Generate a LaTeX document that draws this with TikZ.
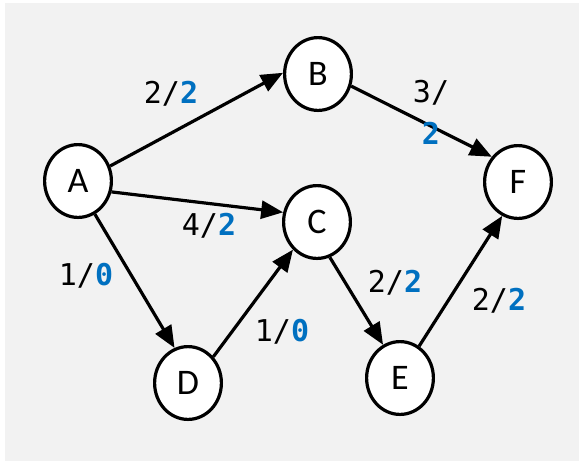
\documentclass[tikz,border=0pt]{standalone}
\usepackage{fontspec}
\setmainfont{Carlito}
\newfontfamily\labelfont{DejaVu Sans Mono}
\usetikzlibrary{arrows.meta,shapes.geometric}
\definecolor{PanelGray}{HTML}{F2F2F2}
\definecolor{FlowBlue}{HTML}{0070C0}
\newcommand{\flowlab}[2]{#1/\textcolor{FlowBlue}{\bfseries #2}}

\begin{document}
\begin{tikzpicture}[x=0.5pt,y=-0.5pt,
  vertex/.style={draw,ellipse,line width=1.6pt,fill=white,inner sep=0pt,minimum width=33.4pt,minimum height=36.4pt,font=\fontsize{18}{20}\selectfont},
  flow/.style={-{Triangle[length=11pt,width=9pt]},line width=1.6pt},
  edgelabel/.style={inner sep=0pt,font=\labelfont\fontsize{15}{21}\selectfont,align=center}]
  \useasboundingbox (0,0) rectangle (583,463);
  \fill[PanelGray] (5,3) rectangle (579,461);
  % vertices
  \node[vertex] (A) at (78,181) {A};
  \node[vertex] (B) at (318,74) {B};
  \node[vertex] (C) at (317,222) {C};
  \node[vertex] (D) at (188,383) {D};
  \node[vertex] (E) at (400,378) {E};
  \node[vertex] (F) at (518,182) {F};
  % flows
  \draw[flow] (A.25) -- (B.178);
  \draw[flow] (A.-18) -- (C.164);
  \draw[flow] (A.-63) -- (D.111);
  \draw[flow] (D.46) -- (C.229);
  \draw[flow] (C.-70) -- (E.117);
  \draw[flow] (E.59) -- (F.245);
  \draw[flow] (B.-20) -- (F.136);
  % capacity/flow labels
  \node[edgelabel] (lAB) at (171,94) {\flowlab{2}{2}};
  \node[edgelabel] (lAC) at (209,226) {\flowlab{4}{2}};
  \node[edgelabel] (lAD) at (86,276) {\flowlab{1}{0}};
  \node[edgelabel] (lDC) at (282,332) {\flowlab{1}{0}};
  \node[edgelabel] (lCE) at (395,283) {\flowlab{2}{2}};
  \node[edgelabel] (lEF) at (499,301) {\flowlab{2}{2}};
  \node[edgelabel] (lBF) at (431,112) {3/\\\textcolor{FlowBlue}{\bfseries 2}};
\end{tikzpicture}
\end{document}
